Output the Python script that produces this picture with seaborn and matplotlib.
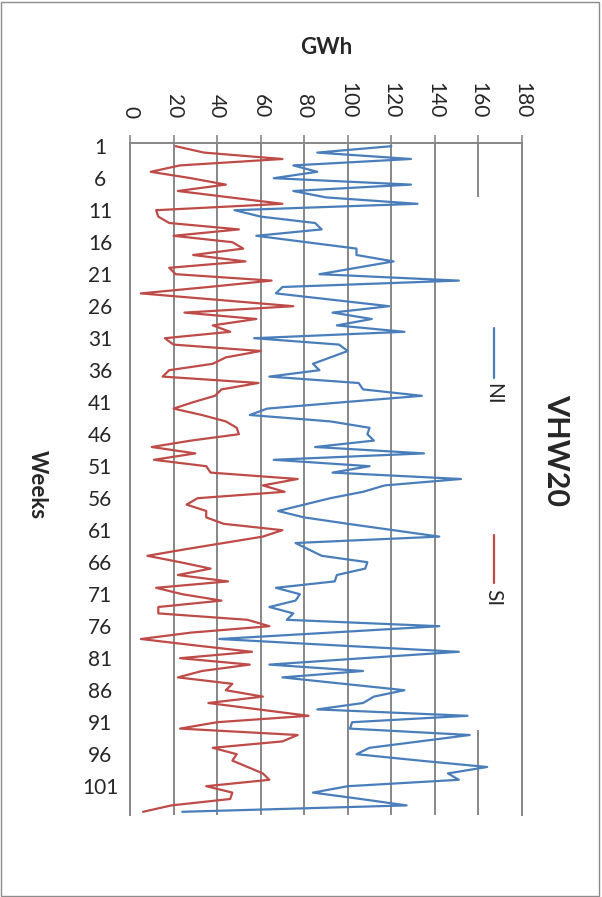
import numpy as np
import pandas as pd
import matplotlib
matplotlib.use("Agg")
import matplotlib.pyplot as plt
from matplotlib.patches import Rectangle
from matplotlib.lines import Line2D
import seaborn as sns

# Weekly energy (GWh) for the North Island (NI) and South Island (SI)
weeks = list(range(1, 106))
ni_gwh = [120, 86, 129, 75, 86, 66, 129, 75, 90, 132,
          48, 60, 85, 88, 58, 81, 104, 104, 121, 104,
          87, 151, 70, 67, 93, 119, 93, 111, 95, 126,
          57, 96, 100, 92, 84, 87, 64, 105, 107, 134,
          98, 63, 55, 92, 110, 109, 112, 85, 135, 66,
          110, 93, 152, 117, 107, 92, 80, 68, 80, 100,
          121, 142, 76, 82, 88, 109, 108, 95, 94, 67,
          78, 76, 64, 75, 72, 142, 92, 41, 95, 151,
          107, 64, 107, 70, 98, 126, 112, 107, 86, 155,
          102, 101, 156, 133, 110, 104, 133, 164, 146, 151,
          100, 84, 106, 127, 24]
si_gwh = [21, 34, 70, 23, 9.5, 28, 44, 22, 46, 70,
          12, 13, 18, 50, 20, 47, 52, 29, 53, 18,
          21, 65, 36, 5, 40, 75, 25, 58, 38, 46,
          16, 20, 60, 44, 38, 18, 15, 59, 42, 39,
          29, 20, 33, 44, 49, 50, 28, 10, 30, 11,
          35, 37, 77, 61, 71, 31, 26, 35, 35, 43,
          70, 61, 43, 25, 8, 23, 37, 22, 45, 12,
          24, 42, 13, 13, 54, 64, 28, 5, 30, 56,
          23, 55, 33, 22, 47, 44, 61, 36, 59, 82,
          40, 23, 77, 70, 38, 49, 47, 54, 61, 64,
          35, 47, 46, 19, 6]
series_names = ["NI", "SI"]
series_colors = ["#4A7EBB", "#BE4B48"]
gwh_ticks = list(range(0, 181, 20))
week_ticks = list(range(1, 102, 5))

df = pd.DataFrame({
    "week": weeks * 2,
    "GWh": ni_gwh + si_gwh,
    "series": ["NI"] * len(weeks) + ["SI"] * len(weeks),
})

sns.set_style("white")
plt.rcParams["font.family"] = ["Lato", "DejaVu Sans"]

W, H = 602, 897
fig = plt.figure(figsize=(W / 100, H / 100), dpi=100)
fig.patch.set_facecolor("white")

# axes box in pixel terms: left 130, right 522, top 143, bottom 815
ax_l, ax_r, ax_t, ax_b = 130, 522, 143, 815
ax = fig.add_axes([ax_l / W, 1 - ax_b / H, (ax_r - ax_l) / W, (ax_b - ax_t) / H])

grid_c = "#878787"

sns.lineplot(data=df, x="GWh", y="week", hue="series", hue_order=series_names,
             palette=series_colors, orient="y", estimator=None, legend=False,
             linewidth=1.6, ax=ax, zorder=3)

ax.set_xlim(0, 180)
ax.set_ylim(len(weeks) + 0.5, 0.5)

# value axis along the top
ax.xaxis.set_ticks_position("top")
ax.xaxis.set_label_position("top")
ax.set_xticks(gwh_ticks)
ax.set_xticklabels([str(t) for t in gwh_ticks], rotation=-90, fontsize=15,
                   ha="center", va="bottom")
ax.tick_params(axis="x", which="major", direction="out", length=6, width=1.2,
               color=grid_c, pad=12)
ax.grid(axis="x", color=grid_c, linewidth=1.4)
ax.grid(axis="y", visible=False)
ax.set_axisbelow(True)

# week axis down the left side
ax.set_yticks(week_ticks)
ax.set_yticklabels([str(t) for t in week_ticks], fontsize=15)
for lab in ax.get_yticklabels():
    lab.set_horizontalalignment("center")
ax.set_yticks(np.arange(0.5, len(weeks) + 1, 1.0), minor=True)
ax.tick_params(axis="y", which="major", length=0, pad=21.6)
ax.tick_params(axis="y", which="minor", direction="out", length=6, width=1.2,
               color=grid_c)

for side in ["left", "top", "right"]:
    ax.spines[side].set_visible(True)
    ax.spines[side].set_color(grid_c)
    ax.spines[side].set_linewidth(1.4)
ax.spines["bottom"].set_visible(False)

ax.set_xlabel("GWh", fontsize=16, fontweight="bold")
ax.xaxis.set_label_coords(0.5, (ax_b - 48) / (ax_b - ax_t))
ax.xaxis.label.set_va("center")
ax.set_ylabel("Weeks", fontsize=16, fontweight="bold", rotation=-90)
ax.yaxis.set_label_coords((37 - ax_l) / (ax_r - ax_l), (ax_b - 485) / (ax_b - ax_t))
ax.yaxis.label.set_va("center")
ax.yaxis.label.set_ha("center")

def ax_x(px):
    return (px - ax_l) / (ax_r - ax_l)

def ax_y(py):
    return (ax_b - py) / (ax_b - ax_t)

# chart title on the right
ax.text(ax_x(556), ax_y(450), "VHW20", rotation=-90, fontsize=22,
        fontweight="bold", ha="center", va="center", transform=ax.transAxes,
        clip_on=False)

# legend panel
ax.add_patch(Rectangle((ax_x(468), ax_y(730)), ax_x(516) - ax_x(468),
                       ax_y(197) - ax_y(730), transform=ax.transAxes,
                       facecolor="white", edgecolor="none", zorder=1))
for name, color, y0, y1, ty in [("NI", series_colors[0], 328, 378, 394),
                                ("SI", series_colors[1], 535, 583, 598)]:
    ax.add_line(Line2D([ax_x(494), ax_x(494)], [ax_y(y0), ax_y(y1)],
                       color=color, linewidth=1.6, transform=ax.transAxes,
                       zorder=4))
    ax.text(ax_x(493), ax_y(ty), name, rotation=-90, fontsize=15,
            ha="center", va="center", transform=ax.transAxes, zorder=4)

# chart-area frame
fig.patches.append(Rectangle((1 / W, 1 / H), (W - 4) / W, (H - 3) / H,
                             transform=fig.transFigure, fill=False,
                             edgecolor="#8c8c8c", linewidth=1))

fig.savefig("out.png", dpi=100)
